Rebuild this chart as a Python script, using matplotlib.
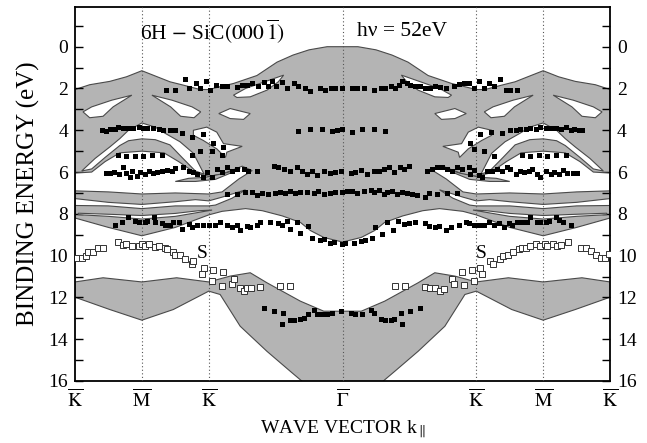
import matplotlib.pyplot as plt
import numpy as np

plt.rcParams['font.family'] = 'Liberation Serif'
plt.rcParams['mathtext.fontset'] = 'stix'

# symmetry points (K-M-K-Gamma-K-M-K), Gamma at x = 4
sym_pos = [0, 1, 2, 4, 6, 7, 8]
sym_lab = [r'$\overline{\mathrm{K}}$', r'$\overline{\mathrm{M}}$', r'$\overline{\mathrm{K}}$',
           r'$\overline{\Gamma}$', r'$\overline{\mathrm{K}}$', r'$\overline{\mathrm{M}}$',
           r'$\overline{\mathrm{K}}$']

# projected bulk bands, left half K..Gamma (mirrored at Gamma)
top_x = [0, 0.22, 0.52, 0.77, 1.0, 1.23, 1.42, 1.62, 1.87, 2.0, 2.37, 2.72, 3.02, 3.26, 3.5, 3.77, 4.0]
top_E = [2.05, 1.82, 1.66, 1.44, 1.15, 1.44, 1.68, 1.84, 2.05, 2.05, 1.76, 1.38, 0.74, 0.4, 0.15, 0.0, 0.0]
bot_x = [0, 0.5, 1.0, 1.5, 2.0, 2.2, 2.55, 2.8, 3.1, 3.37, 3.52, 3.72, 4.0]
bot_E = [8.2, 8.65, 9.05, 8.65, 8.05, 7.88, 7.75, 7.85, 8.1, 8.41, 8.8, 9.13, 9.35]

low_top_x = [0, 0.42, 1.0, 1.52, 2.0, 2.32, 2.62, 2.87, 3.37, 3.72, 4.0]
low_top_E = [11.26, 11.06, 11.26, 11.06, 11.26, 10.98, 10.82, 11.3, 12.18, 12.66, 12.66]
low_bot_x = [0, 0.52, 1.0, 1.47, 2.0, 2.17, 2.47, 2.87, 3.22, 3.39, 3.6, 4.0]
low_bot_E = [11.99, 12.58, 13.09, 12.58, 11.7, 11.86, 13.38, 14.58, 15.54, 16.0, 16.6, 17.0]

# gaps (white) inside the upper band, left half
leaf_x = [0.12, 0.25, 0.55, 0.85, 0.57, 0.42, 0.22]
leaf_E = [3.12, 2.88, 2.56, 2.32, 2.88, 3.33, 3.4]
h3_x = [2.15, 2.32, 2.62, 2.52, 2.32]
h3_E = [3.2, 2.96, 3.2, 3.48, 3.44]
h4_x = [2.37, 2.55, 3.12, 3.04, 2.87, 2.62, 2.42]
h4_E = [2.32, 2.0, 1.36, 1.68, 2.08, 2.4, 2.43]
fish_x = [1.77, 1.97, 2.12, 2.22, 2.5, 2.27, 2.25, 2.12, 1.92, 1.77]
fish_E = [4.0, 3.85, 4.09, 4.64, 4.77, 5.05, 5.3, 4.89, 4.49, 4.24]
dome_x = [0.1, 0.3, 0.52, 0.67, 0.8, 1.0, 1.2, 1.35, 1.57, 1.77, 1.93,
          1.8, 1.6, 1.42, 1.2, 1.0, 0.8, 0.67, 0.45, 0.25]
dome_E = [5.95, 5.35, 4.8, 4.4, 4.0, 3.65, 3.85, 4.15, 4.55, 5.1, 6.1,
          5.95, 5.3, 4.7, 4.45, 4.41, 4.5, 4.73, 5.3, 5.85]
gap2_x = [0, 0.25, 0.45, 0.67, 1.0, 1.33, 1.55, 1.8, 2.0, 2.2, 2.5,
          2.65, 2.45, 2.2, 2.0, 1.5, 1.0, 0.5, 0]
gap2_E = [6.05, 6.0, 5.5, 5.08, 5.0, 5.08, 5.5, 6.05, 6.2, 6.1, 5.72,
          5.93, 6.33, 6.95, 7.05, 7.0, 7.05, 6.95, 6.9]
sliver_x = [1.5, 1.8, 2.1, 2.4, 2.47, 2.25, 1.95, 1.7]
sliver_E = [6.45, 6.45, 6.35, 5.95, 5.82, 6.05, 6.25, 6.3]
gap3_x = [0, 0.5, 1.0, 1.5, 1.8, 2.0, 2.2, 2.55, 2.35, 2.1, 2.0, 1.5, 1.0, 0.5, 0]
gap3_E = [7.27, 7.45, 7.55, 7.42, 7.32, 7.38, 7.2, 6.85, 7.25, 7.58, 7.62, 7.62, 7.75, 7.62, 7.6]
gap4_x = [0.05, 0.5, 1.0, 1.5, 1.85, 2.05, 1.85, 1.5, 1.0, 0.5, 0.05]
gap4_E = [7.97, 8.02, 8.08, 7.98, 7.85, 7.82, 7.93, 8.12, 8.25, 8.12, 8.04]

# ARPES peaks, filled squares
r2_x = [1.36, 1.50, 1.65, 1.71, 1.81, 1.87, 1.96, 2.02, 2.11, 2.20, 2.27, 2.42, 2.50, 2.57, 2.64, 2.73,
        2.82, 2.88, 2.94, 3.01, 3.09, 3.17, 3.27, 3.34, 3.44, 3.51, 3.66, 3.74, 3.83, 3.89, 3.99,
        4.14, 4.22, 4.32, 4.47, 4.57, 4.64, 4.72, 4.79, 4.84, 4.89, 4.97, 5.01, 5.09, 5.16, 5.24, 5.31,
        5.39, 5.46, 5.54, 5.66, 5.74, 5.81, 5.89, 5.96, 6.04, 6.11, 6.19, 6.26, 6.35, 6.44, 6.51, 6.61]
r2_E = [2.08, 2.05, 1.55, 1.96, 1.73, 2.0, 1.65, 2.05, 1.84, 1.88, 1.89, 1.92, 1.84, 1.84, 1.76, 1.88,
        1.71, 1.89, 1.63, 1.89, 1.67, 1.96, 1.76, 1.89, 2.0, 2.12, 2.0, 2.05, 2.0, 2.0, 2.0,
        2.0, 1.96, 2.0, 2.08, 2.0, 1.96, 1.89, 1.96, 1.84, 1.63, 1.76, 1.84, 1.88, 1.89, 1.96, 1.96,
        1.89, 1.92, 1.96, 1.88, 1.79, 1.76, 1.76, 2.0, 1.65, 2.0, 1.76, 1.89, 1.55, 2.05, 2.05, 2.08]
r4_x = [0.40, 0.47, 0.52, 0.60, 0.65, 0.72, 0.80, 0.87, 0.95, 1.01, 1.08, 1.16, 1.25, 1.32, 1.42, 1.50,
        1.60, 1.75, 1.91, 3.34, 3.52, 3.69, 3.84, 3.92, 3.99,
        4.14, 4.29, 4.47, 4.64, 6.06, 6.22, 6.39, 6.51, 6.59, 6.66, 6.74, 6.81, 6.89, 6.96, 7.04, 7.11,
        7.19, 7.26, 7.34, 7.41, 7.46, 7.53, 7.58]
r4_E = [4.0, 4.04, 3.93, 3.93, 3.85, 3.89, 3.88, 3.88, 3.85, 3.89, 3.89, 3.88, 3.93, 4.0, 4.0, 4.0,
        4.13, 4.33, 4.2, 4.04, 3.93, 3.93, 4.04, 4.0, 3.93,
        4.09, 3.93, 3.93, 4.04, 4.17, 4.09, 4.13, 4.0, 3.97, 3.93, 3.93, 3.88, 3.93, 3.85, 3.88, 3.88,
        3.88, 3.93, 3.85, 3.97, 3.93, 4.0, 3.97]
r5_x = [1.75, 1.87, 2.05, 2.2, 2.07, 2.21, 0.65, 0.77, 0.9, 1.01, 1.15, 1.3,
        5.91, 5.96, 6.11, 6.26, 6.69, 6.81, 6.94, 7.06, 7.19, 7.34]
r5_E = [5.16, 4.97, 4.97, 5.16, 4.62, 4.81, 5.2, 5.24, 5.24, 5.24, 5.2, 5.16,
        4.62, 4.89, 5.0, 5.21, 5.2, 5.24, 5.2, 5.24, 5.2, 5.16]
r6_x = [0.47, 0.53, 0.58, 0.66, 0.72, 0.77, 0.82, 0.85, 0.92, 0.97, 1.05, 1.1, 1.17, 1.22, 1.3, 1.37,
        1.45, 1.5, 1.61, 1.7, 1.77, 1.82, 1.92, 1.97, 2.05, 2.12, 2.2, 2.27, 2.35, 2.42, 2.52, 2.59,
        2.72, 2.97, 3.04, 3.12, 3.22, 3.32, 3.39, 3.47, 3.54, 3.62, 3.72, 3.82, 3.89,
        3.97, 4.12, 4.19, 4.27, 4.37, 4.47, 4.54, 4.62, 4.69, 4.77, 4.86, 4.92, 4.99, 5.26, 5.34, 5.41,
        5.49, 5.56, 5.64, 5.71, 5.79, 5.89, 5.91, 5.96, 6.04, 6.09, 6.16, 6.24, 6.31, 6.39, 6.46, 6.51,
        6.59, 6.66, 6.71, 6.79, 6.84, 6.91, 6.96, 7.04, 7.11, 7.16, 7.24, 7.29, 7.36, 7.44, 7.51]
r6_E = [6.04, 6.04, 6.01, 6.09, 5.77, 6.04, 6.25, 5.93, 6.17, 6.01, 6.09, 5.93, 6.04, 6.01, 5.93, 5.9,
        5.96, 5.82, 5.77, 5.93, 6.01, 6.09, 6.25, 6.01, 6.25, 5.85, 6.01, 5.77, 5.93, 5.85, 5.85, 5.96,
        5.93, 5.69, 5.77, 5.85, 5.96, 5.77, 5.96, 6.09, 5.93, 6.12, 5.93, 6.04, 6.01,
        5.96, 6.06, 6.01, 5.9, 6.09, 5.93, 5.96, 5.85, 5.74, 6.01, 5.77, 5.85, 5.72, 5.93, 5.85, 5.77,
        5.74, 5.85, 5.96, 5.77, 5.85, 5.77, 6.09, 5.9, 6.12, 6.25, 5.93, 5.96, 5.85, 5.93, 5.77, 5.85,
        6.09, 5.93, 6.01, 5.93, 5.85, 6.09, 6.22, 5.93, 6.09, 6.01, 6.09, 5.9, 6.06, 6.06, 6.06]
r7_x = [2.27, 2.42, 2.54, 2.64, 2.72, 2.79, 2.89, 2.99, 3.07, 3.14, 3.22, 3.29, 3.37, 3.47, 3.57, 3.64,
        3.72, 3.82, 3.89, 3.99,
        4.07, 4.14, 4.22, 4.32, 4.42, 4.47, 4.54, 4.62, 4.67, 4.74, 4.82, 4.89, 4.97, 5.04, 5.12, 5.24,
        5.29, 5.41, 5.56, 5.71]
r7_E = [7.05, 7.05, 6.97, 6.97, 7.08, 7.02, 7.05, 7.02, 6.97, 7.02, 6.89, 7.02, 6.97, 6.97, 7.02, 6.92,
        7.05, 7.02, 6.97, 6.97,
        6.92, 6.89, 7.02, 6.92, 6.86, 6.97, 6.86, 7.05, 6.97, 6.89, 7.05, 6.97, 7.02, 7.05, 7.08, 7.21,
        7.02, 7.05, 7.02, 7.02]
r8_x = [0.6, 0.7, 0.8, 0.9, 0.95, 1.05, 1.08, 1.18, 1.2, 1.3, 1.35, 1.42, 1.47, 1.55, 1.6, 1.7,
        1.75, 1.82, 1.92, 2.0, 2.1, 2.17, 2.27, 2.35, 2.42, 2.47, 2.57, 2.62, 2.72, 2.77, 2.92, 3.04,
        3.09, 3.17, 3.22, 3.32, 3.37, 3.49, 3.54, 3.67, 3.72, 3.82, 3.87, 3.99,
        4.04, 4.17, 4.27, 4.34, 4.44, 4.49, 4.59, 4.67, 4.76, 4.83, 4.92, 4.99, 5.09, 5.24, 5.29, 5.39,
        5.44, 5.54, 5.62, 5.74, 5.84, 5.89, 5.96, 6.04, 6.11, 6.19, 6.26, 6.34, 6.41, 6.49, 6.54, 6.61,
        6.69, 6.76, 6.81, 6.91, 6.96, 7.04, 7.09, 7.19, 7.24, 7.29, 7.41]
r8_E = [8.53, 8.37, 8.14, 8.33, 8.37, 8.41, 8.33, 8.14, 8.41, 8.46, 8.53, 8.53, 8.41, 8.37, 8.73, 8.5,
        8.62, 8.53, 8.53, 8.53, 8.53, 8.37, 8.53, 8.62, 8.53, 8.78, 8.57, 8.62, 8.53, 8.41, 8.41, 8.46,
        8.53, 8.33, 8.73, 8.41, 8.94, 8.57, 9.17, 9.27, 9.22, 9.38, 9.33, 9.42,
        9.38, 9.38, 9.29, 9.27, 9.17, 8.62, 8.97, 8.41, 8.78, 8.33, 8.49, 8.46, 8.41, 8.46, 8.57, 8.62,
        8.57, 8.78, 8.62, 8.53, 8.41, 8.46, 8.53, 8.53, 8.53, 8.41, 8.53, 8.46, 8.65, 8.46, 8.53, 8.41,
        8.37, 8.41, 8.14, 8.37, 8.41, 8.37, 8.33, 8.14, 8.3, 8.37, 8.53]
r13_x = [2.83, 2.98, 3.11, 3.09, 3.22, 3.27, 3.36, 3.42, 3.49, 3.57, 3.62, 3.69, 3.77, 3.84, 3.97,
         4.12, 4.19, 4.29, 4.42, 4.47, 4.57, 4.64, 4.72, 4.77, 4.87, 4.89, 5.01, 5.16]
r13_E = [12.53, 12.63, 12.74, 13.25, 13.06, 13.09, 13.01, 12.98, 12.79, 12.58, 12.79, 12.79, 12.79,
         12.74, 12.63,
         12.74, 12.79, 12.79, 12.58, 12.74, 13.01, 13.06, 13.06, 13.01, 12.74, 13.25, 12.63, 12.53]

# surface state S, open squares
open_x = [0.02, 0.1, 0.17, 0.2, 0.27, 0.35, 0.42, 0.65, 0.72, 0.77, 0.85, 0.95, 1.0, 1.05, 1.1, 1.2,
          1.25, 1.35, 1.37, 1.47, 1.5, 1.57, 1.65, 1.75, 1.77, 1.9, 1.93, 2.07, 2.21, 2.05, 2.2, 2.35,
          2.37, 2.47, 2.52, 2.57, 2.63, 2.77, 3.07, 3.22,
          4.79, 4.94, 5.24, 5.31, 5.39, 5.45, 5.52, 5.64, 5.67, 5.79, 5.81, 5.93, 5.96, 6.06, 6.09, 6.21,
          6.25, 6.35, 6.4, 6.47, 6.55, 6.64, 6.69, 6.75, 6.81, 6.9, 6.95, 7.02, 7.06, 7.14, 7.2, 7.26,
          7.37, 7.56, 7.64, 7.72, 7.79, 7.86, 7.93, 7.98]
open_E = [10.13, 10.13, 10.02, 9.81, 9.81, 9.62, 9.62, 9.33, 9.49, 9.46, 9.54, 9.54, 9.42, 9.54, 9.42,
          9.58, 9.54, 9.62, 9.7, 9.81, 9.97, 9.97, 10.18, 10.38, 10.26, 10.9, 10.58, 10.71, 10.77, 11.22,
          11.43, 11.38, 11.14, 11.57, 11.7, 11.57, 11.57, 11.51, 11.46, 11.46,
          11.46, 11.46, 11.51, 11.54, 11.57, 11.7, 11.59, 11.14, 11.38, 10.77, 11.41, 10.71, 11.22, 10.58,
          10.9, 10.26, 10.38, 10.18, 10.02, 9.97, 9.81, 9.7, 9.62, 9.62, 9.54, 9.42, 9.54, 9.46, 9.54,
          9.46, 9.54, 9.49, 9.33, 9.62, 9.62, 9.78, 9.97, 10.13, 10.13, 9.94]

GRAY = '#b4b4b4'
EDGE = '#4a4a4a'


def full_curve(xs, es):
    xs = np.asarray(xs, float)
    es = np.asarray(es, float)
    return np.concatenate([xs, 8 - xs[::-1][1:]]), np.concatenate([es, es[::-1][1:]])


def band(ax, tx, te, bx, be):
    tx, te = full_curve(tx, te)
    bx, be = full_curve(bx, be)
    ax.fill(np.concatenate([tx, bx[::-1]]), np.concatenate([te, be[::-1]]),
            facecolor=GRAY, edgecolor=EDGE, lw=0.8, zorder=1)


def patch(ax, xs, es, color):
    xs = np.asarray(xs, float)
    for px in (xs, 8 - xs):
        ax.fill(px, es, facecolor=color, edgecolor=EDGE, lw=0.8, zorder=2)


fig = plt.figure(figsize=(6.47, 4.43), dpi=100)
ax = fig.add_axes([0.1159, 0.14, 0.827, 0.8442])

band(ax, top_x, top_E, bot_x, bot_E)
band(ax, low_top_x, low_top_E, low_bot_x, low_bot_E)

patch(ax, leaf_x, leaf_E, 'white')
patch(ax, 2 - np.asarray(leaf_x), leaf_E, 'white')
for hx, he in [(h3_x, h3_E), (h4_x, h4_E), (fish_x, fish_E), (dome_x, dome_E),
               (gap2_x, gap2_E), (gap3_x, gap3_E), (gap4_x, gap4_E)]:
    patch(ax, hx, he, 'white')
patch(ax, sliver_x, sliver_E, GRAY)

for p in sym_pos[1:-1]:
    ax.axvline(p, color='#555555', ls=(0, (1, 2.2)), lw=0.8, zorder=3)

fx = r2_x + r4_x + r5_x + r6_x + r7_x + r8_x + r13_x
fE = r2_E + r4_E + r5_E + r6_E + r7_E + r8_E + r13_E
ax.plot(fx, fE, 's', color='black', ms=3.6, mew=0, zorder=5)
ax.plot(open_x, open_E, 's', mfc='white', mec='#333333', ms=4.4, mew=0.7, zorder=5)

ax.text(1.9, 9.9, 'S', fontsize=14, ha='center', va='center', zorder=6)
ax.text(6.08, 9.9, 'S', fontsize=14, ha='center', va='center', zorder=6)
ax.text(0.97, -0.72, r'6H $-$ SiC$(000\,\overline{1})$', fontsize=15.5, ha='left', va='center')
ax.text(4.22, -0.72, 'hν = 52eV', fontsize=15.5, ha='left', va='center')

ax.set_xlim(0, 8)
ax.set_ylim(16, -1.9)
ax.set_xticks(sym_pos)
ax.set_xticklabels(sym_lab, fontsize=14)
ax.set_yticks(np.arange(0, 17, 2))
ax.set_yticks(np.arange(-1, 16, 2), minor=True)
ax.tick_params(axis='x', length=0, pad=5)
ax.tick_params(axis='y', which='both', direction='in', length=6, width=1.0,
               left=True, right=True, labelright=True, labelsize=14)
ax.tick_params(axis='y', pad=5)
for s in ax.spines.values():
    s.set_linewidth(1.3)
ax.set_xlabel(r'WAVE VECTOR k$_{\parallel}$', fontsize=14, labelpad=6)
ax.set_ylabel('BINDING ENERGY (eV)', fontsize=18, labelpad=6)

fig.savefig('out.png', dpi=100)
